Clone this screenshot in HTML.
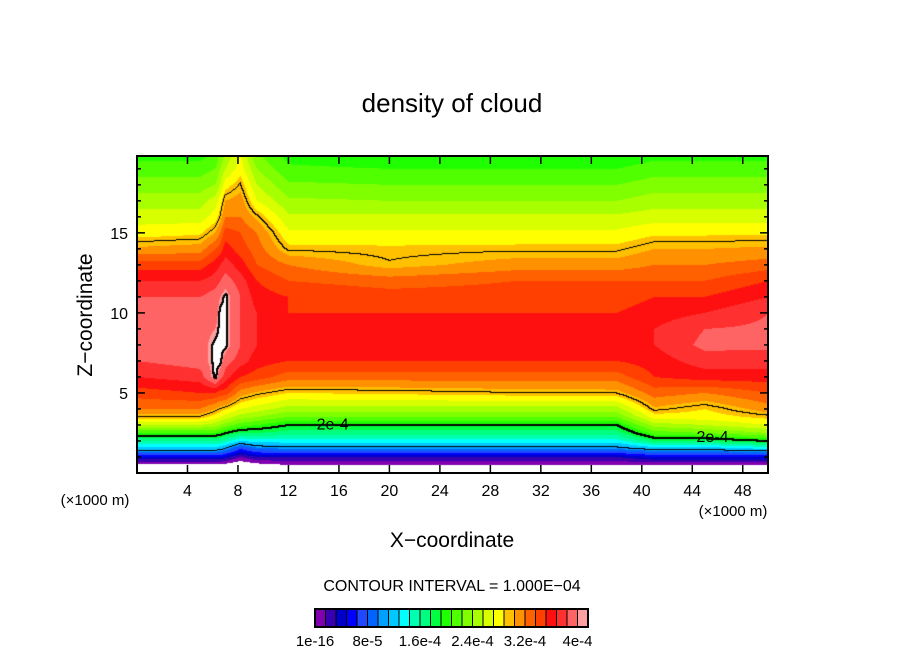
<!DOCTYPE html>
<html><head><meta charset="utf-8">
<style>
body{margin:0;background:#fff;}
#wrap{position:relative;width:904px;height:654px;overflow:hidden;font-family:"Liberation Sans",sans-serif;}
canvas{position:absolute;left:137px;top:156px;}
svg{position:absolute;left:0;top:0;}
</style></head>
<body>
<div id="wrap">
<canvas id="field" width="631" height="317"></canvas>
<svg id="ov" width="904" height="654">
<text x="452" y="112" font-size="26" text-anchor="middle">density of cloud</text>
<g id="axes"></g>
<text x="95" y="505" font-size="15" text-anchor="middle">(×1000 m)</text>
<text x="733" y="516" font-size="15" text-anchor="middle">(×1000 m)</text>
<text x="452" y="547" font-size="21" text-anchor="middle">X−coordinate</text>
<text x="0" y="0" font-size="21" text-anchor="middle" transform="translate(92,315) rotate(-90)">Z−coordinate</text>
<text x="452" y="591" font-size="16" text-anchor="middle">CONTOUR INTERVAL = 1.000E−04</text>
<g id="cbar"></g>
<g id="clabels"></g>
</svg>
</div>
<script>
// ---- data ----
const colors=["#8000b0","#3800b0","#0000c8","#0000ff","#2048ff","#0064ff","#00a0ff","#00c8ff","#00ffff","#00ffb0","#00ff80","#00ff40","#20ff00","#50ff00","#80ff00","#a8ff00","#d8ff00","#ffff00","#ffc000","#ff9000","#ff6000","#ff4000","#ff1010","#ff3030","#ff6464","#ffa0a0"];
const cbarLabels=["1e-16","8e-5","1.6e-4","2.4e-4","3.2e-4","4e-4"];
const xTicks=[4,8,12,16,20,24,28,32,36,40,44,48];
const yTicks=[5,10,15];
const zLevels=[0,0.5,1,1.5,2,2.5,3,3.5,4,5,6,7,8,9,10,11,12,13,14,15,16,17,18,19,20];
const xCols=[0,5,6.2,6.6,7,8.2,9.5,12,20,30,38,41,45,50];
const profiles=[
[-2,-0.5,3,7.5,10,13,16,18.5,20,21.5,23,24,24,24,24,24,23,21.5,19.2,17.5,16.5,15.5,14.5,13.5,12.5],
[-2,-0.5,3,7.5,10,13,16,18.5,20,22,23.5,24.5,24.5,24.5,24.5,24,23,21.5,19.5,17.8,16.5,15.5,14.5,13.5,12.5],
[-2,-0.5,3,7.5,10,13,15.5,17.5,19,22,25.5,25.5,25.5,25,24.5,24.5,23.5,22.5,21,19,17.5,16.5,15,14,13],
[-2,-0.5,3,7,10,12.5,15,17,18.5,21.5,24.5,25.5,25.5,25.5,25.5,25,24,23,21.5,20,18.5,17.5,16,15,14],
[-2,-0.5,2.5,6.5,9.5,12,14.5,16.5,18.2,21.5,23.5,24.5,25.5,25.5,25.5,25.5,24.5,23.5,22.5,21.5,20,19,17.5,16,15],
[-2,-1,1,4,8,11,13.5,15.5,17,19.5,22,23.5,24,24,24,24,23.5,22.5,21.5,21,20,19.5,18.6,17.5,17],
[-2,-0.5,2,5.5,8.5,11,13,15,16.5,18.8,21.5,22.5,23,23,23,22.5,22,21,20.5,20,18.7,17,16,15,14],
[-2,0,2,6,8.5,10.5,12,14,15.5,18,20.5,22,22,22,22,22,21,20,18.3,17.2,16.2,15.2,14.2,13.2,12.5],
[-1,0,2,6,8.5,10.5,12,14,15.5,18.2,20.5,22,22,22.5,22,21.5,20.5,18.6,18.2,17.2,16.2,15,14,13,12],
[-1,0,2,6,8.5,10.5,12,14,15.5,18.5,20.5,22,22.5,22.5,22,21.5,21,19.5,18.3,17.2,16.2,15,14,13,12],
[-1,0,2,6,8.5,10.5,12,14,15.5,18.6,20.5,22,22.5,22.5,22,21.5,21,19.5,18.3,17.2,16.2,15,14,13,12],
[-1,0,3,7,11,13.5,15.5,17.5,18.8,20.5,22,22.5,23,23,22.5,22,21,20,19,17.8,16.5,15.5,14.5,13.5,12.5],
[-1,0,3,7,11,14,16,17.5,18,20,22.5,23.5,24.3,24,23,22,21,20,19,17.8,16.5,15.5,14.5,13.5,12.5],
[-1,0,3,8,12,15,17,18.3,19.5,21,22.5,23.5,24.2,24.2,24,23,22,20.5,19.2,17.8,16.5,15.5,14.5,13.5,12.5]
];
const contourLevels=[6.5,12,18.5,25.3];
const contourWidths=[1,2,1,2];
const labelText=["2e-4","2e-4"];
const labelX=[15.5,45.6];
const labelZ=[3.1,2.3];
// ---- scales ----
const X0=137,Y0=156,W=631,H=317,XMAX=50,ZMAX=19.8;
const sx=x=>X0+x/XMAX*W, sz=z=>Y0+H-z/ZMAX*H;
function interp(xs,v){
 if(v<=xs[0])return [0,0];
 for(let i=0;i<xs.length-1;i++){if(v<=xs[i+1])return [i,(v-xs[i])/(xs[i+1]-xs[i])];}
 return [xs.length-2,1];
}
function field(x,z){
 const [i,tx]=interp(xCols,x);const [j,tz]=interp(zLevels,z);
 const a=profiles[i],b=profiles[i+1];
 const va=a[j]*(1-tz)+a[j+1]*tz, vb=b[j]*(1-tz)+b[j+1]*tz;
 return va*(1-tx)+vb*tx;
}
// ---- draw field ----
const cv=document.getElementById('field'),ctx=cv.getContext('2d');
const img=ctx.createImageData(W,H);
const vals=new Float32Array(W*H);
for(let py=0;py<H;py++)for(let px=0;px<W;px++){
 vals[py*W+px]=field((px+0.5)/W*XMAX,ZMAX-(py+0.5)/H*ZMAX);
}
const rgb=colors.map(c=>[parseInt(c.slice(1,3),16),parseInt(c.slice(3,5),16),parseInt(c.slice(5,7),16)]);
for(let k=0;k<W*H;k++){
 const v=vals[k];let c;
 if(v<0||v>=25.3)c=[255,255,255];else c=rgb[Math.min(25,Math.floor(v))];
 img.data[k*4]=c[0];img.data[k*4+1]=c[1];img.data[k*4+2]=c[2];img.data[k*4+3]=255;
}
for(let li=0;li<contourLevels.length;li++){
 const L=contourLevels[li],wd=contourWidths[li];
 for(let py=0;py<H-1;py++)for(let px=0;px<W-1;px++){
  const v=vals[py*W+px],r=vals[py*W+px+1],d=vals[(py+1)*W+px];
  if((v>=L)!==(r>=L)||(v>=L)!==(d>=L)){
   for(let dy=0;dy<wd;dy++)for(let dx=0;dx<wd;dx++){
    const q=((py+dy)*W+px+dx)*4;if(q<img.data.length){img.data[q]=0;img.data[q+1]=0;img.data[q+2]=0;}
   }
  }
 }
}
ctx.putImageData(img,0,0);
// ---- overlay ----
const NS="http://www.w3.org/2000/svg";
function mk(tag,attrs,parent,txt){const e=document.createElementNS(NS,tag);for(const k in attrs)e.setAttribute(k,attrs[k]);if(txt!==undefined)e.textContent=txt;parent.appendChild(e);return e;}
const cl=document.getElementById('clabels');
labelText.forEach((t,i)=>{
 const g=mk('g',{},cl);
 
 
 mk('text',{x:sx(labelX[i]),y:sz(labelZ[i])+6,'font-size':16,'text-anchor':'middle'},g,t);
});
const ax=document.getElementById('axes');
const frame=mk('rect',{x:X0,y:Y0,width:W,height:H,fill:'none',stroke:'#000','stroke-width':2},ax);


xTicks.forEach(t=>{
 const x=sx(t);
 mk('line',{x1:x,y1:Y0+H,x2:x,y2:Y0+H-8,stroke:'#000','stroke-width':1.5},ax);
 mk('line',{x1:x,y1:Y0,x2:x,y2:Y0+8,stroke:'#000','stroke-width':1.5},ax);
 const tl=mk('text',{x:x,y:496,'font-size':16,'text-anchor':'middle'},ax,String(t));
 
 
});
for(let z=1;z<ZMAX;z++){
 const y=sz(z),len=(z%5===0)?8:4;
 mk('line',{x1:X0,y1:y,x2:X0+len,y2:y,stroke:'#000','stroke-width':1.5},ax);
 mk('line',{x1:X0+W,y1:y,x2:X0+W-len,y2:y,stroke:'#000','stroke-width':1.5},ax);
}
yTicks.forEach(t=>{
 const tl=mk('text',{x:128,y:sz(t)+6,'font-size':16,'text-anchor':'end'},ax,String(t));
 
 
});
const cb=document.getElementById('cbar');
const CBX=315,CBY=609,CBW=273,CBH=18,bw=CBW/colors.length;
colors.forEach((c,i)=>{
 const r=mk('rect',{x:CBX+i*bw,y:CBY,width:bw+0.3,height:CBH,fill:c},cb);
 
 
 if(i>0)mk('line',{x1:CBX+i*bw,y1:CBY,x2:CBX+i*bw,y2:CBY+CBH,stroke:'#000','stroke-width':1},cb);
});
mk('rect',{x:CBX,y:CBY,width:CBW,height:CBH,fill:'none',stroke:'#000','stroke-width':2},cb);
cbarLabels.forEach((t,i)=>{
 const tl=mk('text',{x:CBX+i*5*bw,y:646,'font-size':15,'text-anchor':'middle'},cb,t);
 
 
});
</script>
</body></html>
